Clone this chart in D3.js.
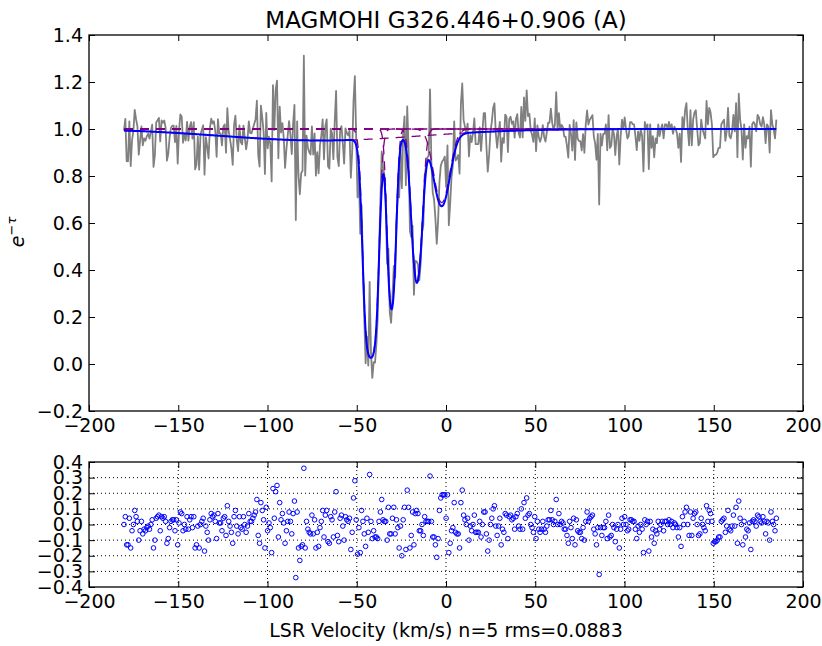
<!DOCTYPE html>
<html>
<head>
<meta charset="utf-8">
<script src="https://cdnjs.cloudflare.com/ajax/libs/d3/7.8.5/d3.min.js"></script>
<style>
body { margin: 0; background: #ffffff; }
svg { font-family: "DejaVu Sans", sans-serif; }
</style>
</head>
<body>
<div id="spectrum_chart"></div>
<script>
var titleText = "MAGMOHI G326.446+0.906 (A)";
var xLabelText = "LSR Velocity (km/s) n=5 rms=0.0883";
var xTickValues = [-200, -150, -100, -50, 0, 50, 100, 150, 200];
var yTickValuesTop = [-0.2, 0.0, 0.2, 0.4, 0.6, 0.8, 1.0, 1.2, 1.4];
var yTickValuesBottom = [-0.4, -0.3, -0.2, -0.1, 0.0, 0.1, 0.2, 0.3, 0.4];

// spectrum channels
var velocityStart = -180.4;
var channelWidth = 0.752;

// fitted gaussian components (centre km/s, sigma km/s, peak optical depth)
var compCentre = [-70.0, -42.1, -30.5, -16.3, -2.4];
var compSigma  = [55.0, 2.6, 1.9, 2.5, 4.2];
var compTau    = [0.05, 3.6, 1.42, 1.03, 0.375];

// residuals (data - fit), one per channel
var residuals = [
    0.00,0.05,-0.13,-0.13,0.04,-0.15,-0.04,0.00,0.09,0.05,0.02,-0.10,-0.04,0.02,-0.06,-0.03,-0.04,-0.02,-0.01,-0.03,
    0.00,0.03,-0.15,-0.10,0.04,0.05,0.06,-0.04,0.05,0.04,0.05,0.02,-0.12,-0.09,-0.02,0.02,0.03,0.03,-0.04,0.03,
    -0.13,0.01,0.08,0.07,-0.04,0.00,-0.03,0.05,-0.03,0.03,0.05,-0.02,0.05,-0.15,-0.13,-0.01,-0.15,0.00,0.02,0.04,
    -0.17,-0.01,-0.05,-0.10,0.03,0.07,0.05,0.06,0.02,-0.09,0.07,0.01,0.01,-0.04,0.04,0.05,-0.07,0.12,0.02,
    -0.01,-0.05,-0.12,0.05,0.09,-0.01,-0.06,0.05,-0.02,-0.03,0.05,0.00,-0.05,-0.01,0.07,0.02,0.02,0.04,0.06,0.08,
    0.16,-0.07,-0.12,0.14,0.09,0.03,-0.15,0.11,-0.04,0.01,-0.02,-0.18,0.23,0.04,0.21,0.25,-0.08,0.14,0.03,0.07,
    0.01,-0.12,-0.04,0.02,0.08,0.02,-0.06,0.07,0.15,-0.34,0.08,-0.15,-0.23,-0.14,-0.13,0.36,-0.15,0.02,-0.03,-0.05,
    -0.06,0.06,-0.06,0.03,-0.15,-0.05,-0.14,-0.02,0.02,0.09,-0.08,0.06,0.09,-0.11,-0.12,0.05,0.03,-0.08,0.08,0.21,
    -0.07,-0.11,0.04,0.06,-0.01,-0.10,
    0.05,0.03,0.02,0.04,-0.16,-0.05,0.17,0.28,0.03,-0.19,-0.02,-0.18,0.09,0.02,-0.06,-0.14,0.04,-0.05,0.32,0.02,
    -0.09,-0.04,-0.08,-0.08,-0.09,0.02,0.08,0.16,0.03,0.02,0.02,-0.10,0.11,-0.06,-0.06,0.04,0.11,-0.06,0.03,-0.02,
    -0.15,-0.01,-0.20,0.03,0.11,-0.16,0.22,0.11,-0.15,-0.07,0.08,-0.13,0.07,0.09,0.07,-0.04,-0.04,0.00,-0.07,0.05,
    0.02,0.02,0.02,0.31,0.02,-0.08,-0.08,-0.13,-0.21,-0.09,0.09,0.17,0.19,0.19,0.19,0.04,0.19,-0.18,-0.12,-0.04,
    -0.02,0.14,-0.05,-0.06,-0.06,-0.15,
    0.14,0.22,0.06,0.03,0.00,0.04,-0.10,-0.01,-0.04,0.00,0.06,-0.05,-0.05,-0.05,0.02,-0.08,0.00,0.08,0.08,-0.06,
    -0.17,-0.10,0.00,0.04,0.10,0.12,-0.01,-0.07,-0.01,0.04,-0.13,-0.03,-0.05,0.07,0.06,-0.09,0.05,0.06,0.03,0.04,
    -0.03,0.05,0.07,-0.01,-0.03,0.10,-0.03,0.14,0.04,0.17,0.06,0.07,0.00,-0.02,-0.05,0.05,-0.09,0.02,-0.03,-0.05,
    -0.03,0.02,-0.03,-0.05,-0.01,0.03,0.03,0.09,0.03,0.00,0.02,0.16,0.00,0.07,0.00,0.02,0.01,-0.03,-0.03,-0.07,
    -0.12,0.02,-0.02,-0.09,0.04,
    -0.13,0.03,-0.04,-0.05,-0.05,-0.09,-0.02,-0.10,0.02,0.08,0.02,0.04,0.05,0.06,-0.03,-0.06,-0.13,-0.02,-0.32,-0.02,
    -0.07,-0.02,-0.02,0.02,-0.09,0.06,-0.08,-0.07,0.00,-0.02,-0.11,-0.03,0.00,-0.15,-0.03,0.04,0.00,0.05,0.00,-0.04,
    -0.03,0.03,0.03,0.02,0.02,-0.03,-0.09,-0.01,-0.05,0.00,-0.03,-0.18,0.03,0.00,0.02,-0.17,0.02,-0.08,-0.03,-0.12,
    -0.04,-0.06,0.02,-0.03,0.00,0.02,-0.04,0.02,0.02,0.00,0.03,0.00,0.02,-0.02,0.01,0.00,-0.02,-0.08,-0.02,-0.14,
    0.05,0.00,0.08,0.11,0.00,-0.07,
    0.08,-0.07,0.04,0.07,0.08,0.00,-0.07,-0.06,0.04,0.00,-0.02,-0.04,0.12,0.02,0.09,0.07,0.02,-0.12,-0.11,-0.11,
    -0.10,-0.08,-0.08,0.02,0.03,0.04,-0.05,-0.01,0.09,-0.03,-0.04,-0.01,0.06,-0.01,0.11,-0.12,0.15,0.04,0.00,-0.13,
    0.02,-0.08,-0.03,-0.04,0.01,-0.16,0.02,0.03,0.02,-0.01,0.06,0.05,0.02,0.01,0.05,0.02,-0.06,0.02,0.01,-0.10,
    0.08,0.02,0.00,-0.04,0.04
];

////////////////////////////////////////////////////////////////////////////////////////////////

function componentTau(i, v) {
    var dv = v - compCentre[i];
    return compTau[i] * Math.exp(-dv * dv / (2 * compSigma[i] * compSigma[i]));
}

function fitValue(v) {
    var tau = 0;
    for (var i = 0; i < compCentre.length; i++) tau += componentTau(i, v);
    return Math.exp(-tau);
}

function drawSpectrum(htmlSelector) {
    var svg = d3.select(htmlSelector).append("svg")
        .attr("width", 822)
        .attr("height", 646);

    var x = d3.scaleLinear().domain([-200, 200]).range([89, 803]);
    var yTop = d3.scaleLinear().domain([-0.2, 1.4]).range([411, 35]);
    var yBot = d3.scaleLinear().domain([-0.4, 0.4]).range([587, 462]);

    var channels = residuals.map(function(r, i) {
        var v = velocityStart + i * channelWidth;
        return {v: v, resid: r, value: fitValue(v) + r};
    });
    var vEnd = velocityStart + (residuals.length - 1) * channelWidth;
    var fineVel = d3.range(velocityStart, vEnd + 0.001, 0.2);

    svg.append("defs").append("clipPath").attr("id", "clipTop")
        .append("rect").attr("x", 89).attr("y", 35).attr("width", 714).attr("height", 376);

    var plotTop = svg.append("g").attr("clip-path", "url(#clipTop)");

    // observed spectrum
    plotTop.append("path")
        .datum(channels)
        .attr("fill", "none")
        .attr("stroke", "#808080")
        .attr("stroke-width", 1.8)
        .attr("stroke-linejoin", "round")
        .attr("d", d3.line()
            .x(function(d) { return x(d.v); })
            .y(function(d) { return yTop(d.value); }));

    // individual components
    compCentre.forEach(function(c, i) {
        plotTop.append("path")
            .datum(fineVel)
            .attr("fill", "none")
            .attr("stroke", "#800080")
            .attr("stroke-width", 1.3)
            .attr("stroke-dasharray", "9,7")
            .attr("d", d3.line()
                .x(function(v) { return x(v); })
                .y(function(v) { return yTop(Math.exp(-componentTau(i, v))); }));
    });

    // total fit
    plotTop.append("path")
        .datum(fineVel)
        .attr("fill", "none")
        .attr("stroke", "#0000ff")
        .attr("stroke-width", 2)
        .attr("d", d3.line()
            .x(function(v) { return x(v); })
            .y(function(v) { return yTop(fitValue(v)); }));

    // residual grid
    var grid = svg.append("g")
        .attr("stroke", "#000")
        .attr("stroke-width", 1)
        .attr("stroke-dasharray", "1,3");
    grid.selectAll("line.gy")
        .data(yTickValuesBottom.slice(1, -1))
        .enter().append("line")
            .attr("class", "gy")
            .attr("x1", 89).attr("x2", 803)
            .attr("y1", function(d) { return yBot(d); })
            .attr("y2", function(d) { return yBot(d); });
    grid.selectAll("line.gx")
        .data(xTickValues.slice(1, -1))
        .enter().append("line")
            .attr("class", "gx")
            .attr("y1", 462).attr("y2", 587)
            .attr("x1", function(d) { return x(d); })
            .attr("x2", function(d) { return x(d); });

    // residual markers
    svg.append("g")
        .selectAll("circle")
        .data(channels)
        .enter().append("circle")
            .attr("cx", function(d) { return x(d.v); })
            .attr("cy", function(d) { return yBot(d.resid); })
            .attr("r", 2.3)
            .attr("fill", "none")
            .attr("stroke", "#0000ff")
            .attr("stroke-width", 1);

    // axes, ticks pointing inwards
    function styleAxis(g) {
        g.select(".domain").remove();
        g.selectAll(".tick line").attr("stroke", "#000").attr("stroke-width", 1);
        g.selectAll(".tick text").attr("fill", "#000").attr("font-size", 19);
    }

    var fmtX = d3.format("d");
    var fmt1 = d3.format(".1f");

    [[411, 35, yTop, yTickValuesTop], [587, 462, yBot, yTickValuesBottom]].forEach(function(p) {
        svg.append("g")
            .attr("transform", "translate(0," + p[0] + ")")
            .attr("font-family", null)
            .call(d3.axisBottom(x).tickValues(xTickValues).tickFormat(fmtX)
                .tickSizeInner(-6).tickSizeOuter(0).tickPadding(8))
            .call(styleAxis);
        svg.append("g")
            .attr("transform", "translate(0," + p[1] + ")")
            .call(d3.axisTop(x).tickValues(xTickValues).tickFormat("")
                .tickSizeInner(-6).tickSizeOuter(0))
            .call(styleAxis);
        svg.append("g")
            .attr("transform", "translate(89,0)")
            .attr("font-family", null)
            .call(d3.axisLeft(p[2]).tickValues(p[3]).tickFormat(fmt1)
                .tickSizeInner(-6).tickSizeOuter(0).tickPadding(6))
            .call(styleAxis);
        svg.append("g")
            .attr("transform", "translate(803,0)")
            .call(d3.axisRight(p[2]).tickValues(p[3]).tickFormat("")
                .tickSizeInner(-6).tickSizeOuter(0))
            .call(styleAxis);
        svg.append("rect")
            .attr("x", 89).attr("y", p[1])
            .attr("width", 714).attr("height", p[0] - p[1])
            .attr("fill", "none")
            .attr("stroke", "#000")
            .attr("stroke-width", 1.3);
    });

    svg.selectAll(".tick text").attr("font-family", "DejaVu Sans, sans-serif");

    svg.append("text")
        .attr("x", 446)
        .attr("y", 28)
        .attr("text-anchor", "middle")
        .attr("font-size", 23)
        .text(titleText);

    svg.append("text")
        .attr("x", 446)
        .attr("y", 637)
        .attr("text-anchor", "middle")
        .attr("font-size", 19)
        .text(xLabelText);

    var yLabel = svg.append("text")
        .attr("transform", "translate(24,232) rotate(-90)")
        .attr("text-anchor", "middle")
        .attr("font-size", 19);
    yLabel.append("tspan").attr("font-style", "italic").text("e");
    yLabel.append("tspan").attr("dy", -8).attr("font-size", 13).attr("font-style", "italic").text("\u2212\u03c4");
}

drawSpectrum("#spectrum_chart");
</script>
</body>
</html>
